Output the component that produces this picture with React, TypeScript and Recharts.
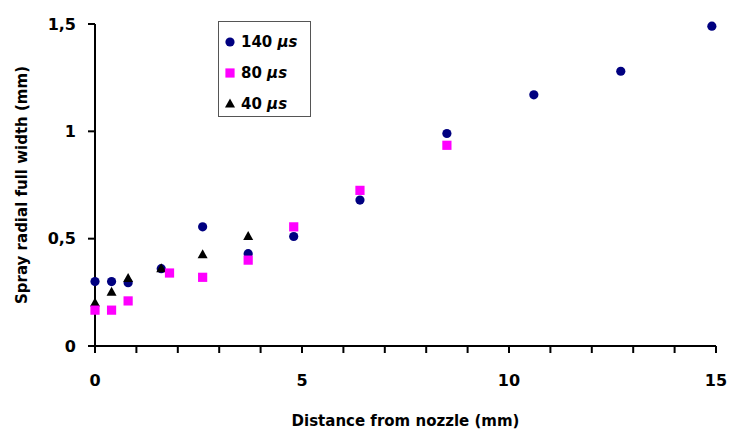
import { ScatterChart, Scatter, XAxis, YAxis, Label } from 'recharts'

// values
const x140 = [0, 0.4, 0.8, 1.6, 2.6, 3.7, 4.8, 6.4, 8.5, 10.6, 12.7, 14.9]
const y140 = [0.3, 0.3, 0.295, 0.36, 0.555, 0.43, 0.51, 0.68, 0.99, 1.17, 1.28, 1.49]
const x80 = [0, 0.4, 0.8, 1.8, 2.6, 3.7, 4.8, 6.4, 8.5]
const y80 = [0.167, 0.167, 0.21, 0.34, 0.32, 0.4, 0.555, 0.725, 0.935]
const x40 = [0, 0.4, 0.8, 1.6, 2.6, 3.7]
const y40 = [0.2, 0.25, 0.315, 0.36, 0.425, 0.51]

const xTicks = [0, 1, 2, 3, 4, 5, 6, 7, 8, 9, 10, 11, 12, 13, 14, 15]
const yTicks = [0, 0.5, 1, 1.5]

const seriesNames = ['140', '80', '40']

const FONT = "'Comic Sans MS', 'DejaVu Sans', sans-serif"
const NAVY = '#000080'
const MAGENTA = '#ff00ff'

const zip = (xs: number[], ys: number[]) => xs.map((x, i) => ({ x, y: ys[i] }))

const Circle = ({ cx, cy }: any) => <circle cx={cx} cy={cy} r={4.6} fill={NAVY} />
const Square = ({ cx, cy }: any) => (
  <rect x={cx - 4.6} y={cy - 4.6} width={9.2} height={9.2} fill={MAGENTA} />
)
const Triangle = ({ cx, cy }: any) => (
  <polygon points={`${cx},${cy - 5.5} ${cx + 5},${cy + 3.5} ${cx - 5},${cy + 3.5}`} fill="#000" />
)

const fmt = (v: number) => String(v).replace('.', ',')

const XTick = ({ x, y, payload }: any) => {
  if (payload.value % 5 !== 0) return null
  return (
    <text x={x} y={y} dy="0.71em" textAnchor="middle" fontFamily={FONT} fontWeight="bold" fontSize={16} fill="#000">
      {payload.value}
    </text>
  )
}

const YTick = ({ x, y, payload }: any) => (
  <text x={x} y={y} dy="0.36em" textAnchor="end" fontFamily={FONT} fontWeight="bold" fontSize={16} fill="#000">
    {fmt(payload.value)}
  </text>
)

function LegendBox() {
  const markers = [
    <circle cx={8} cy={8} r={4.6} fill={NAVY} />,
    <rect x={3.4} y={3.4} width={9.2} height={9.2} fill={MAGENTA} />,
    <polygon points="8,2.5 13,11.5 3,11.5" fill="#000" />,
  ]
  return (
    <div
      style={{
        position: 'absolute',
        left: 218,
        top: 21,
        border: '1px solid #555',
        width: 93,
        height: 96,
        boxSizing: 'border-box',
        padding: '4px 0 0 3px',
        background: '#fff',
        fontFamily: FONT,
        fontWeight: 'bold',
        fontSize: 15,
      }}
    >
      {seriesNames.map((n, i) => (
        <div key={n} style={{ display: 'flex', alignItems: 'center', height: 31 }}>
          <svg width={16} height={16} style={{ marginRight: 3 }}>
            {markers[i]}
          </svg>
          <span>
            {n} <i>µs</i>
          </span>
        </div>
      ))}
    </div>
  )
}

export default function App() {
  return (
    <div style={{ position: 'absolute', left: 0, top: 0, background: '#fff' }}>
      <ScatterChart width={729} height={437} margin={{ top: 24, right: 13, bottom: 0, left: 0 }}>
        <XAxis
          type="number"
          dataKey="x"
          domain={[0, 15]}
          ticks={xTicks}
          interval={0}
          height={91}
          tickSize={7}
          tickMargin={22}
          axisLine={{ stroke: '#000', strokeWidth: 2 }}
          tickLine={{ stroke: '#000', strokeWidth: 2 }}
          tick={<XTick />}
        >
          <Label
            content={({ viewBox }: any) => (
              <text
                x={viewBox.x + viewBox.width / 2}
                y={viewBox.y + 80}
                textAnchor="middle"
                fontFamily={FONT}
                fontWeight="bold"
                fontSize={15}
                fill="#000"
              >
                Distance from nozzle (mm)
              </text>
            )}
          />
        </XAxis>
        <YAxis
          type="number"
          dataKey="y"
          domain={[0, 1.5]}
          ticks={yTicks}
          interval={0}
          width={95}
          tickSize={7}
          tickMargin={12}
          axisLine={{ stroke: '#000', strokeWidth: 2 }}
          tickLine={{ stroke: '#000', strokeWidth: 2 }}
          tick={<YTick />}
        >
          <Label
            content={({ viewBox }: any) => {
              const cx = viewBox.x + 22
              const cy = viewBox.y + viewBox.height / 2
              return (
                <text
                  x={cx}
                  y={cy}
                  transform={`rotate(-90 ${cx} ${cy})`}
                  textAnchor="middle"
                  dominantBaseline="central"
                  fontFamily={FONT}
                  fontWeight="bold"
                  fontSize={15}
                  fill="#000"
                >
                  Spray radial full width (mm)
                </text>
              )
            }}
          />
        </YAxis>
        <Scatter name="140 µs" data={zip(x140, y140)} shape={<Circle />} isAnimationActive={false} />
        <Scatter name="40 µs" data={zip(x40, y40)} shape={<Triangle />} isAnimationActive={false} />
        <Scatter name="80 µs" data={zip(x80, y80)} shape={<Square />} isAnimationActive={false} />
      </ScatterChart>
      <LegendBox />
    </div>
  )
}
